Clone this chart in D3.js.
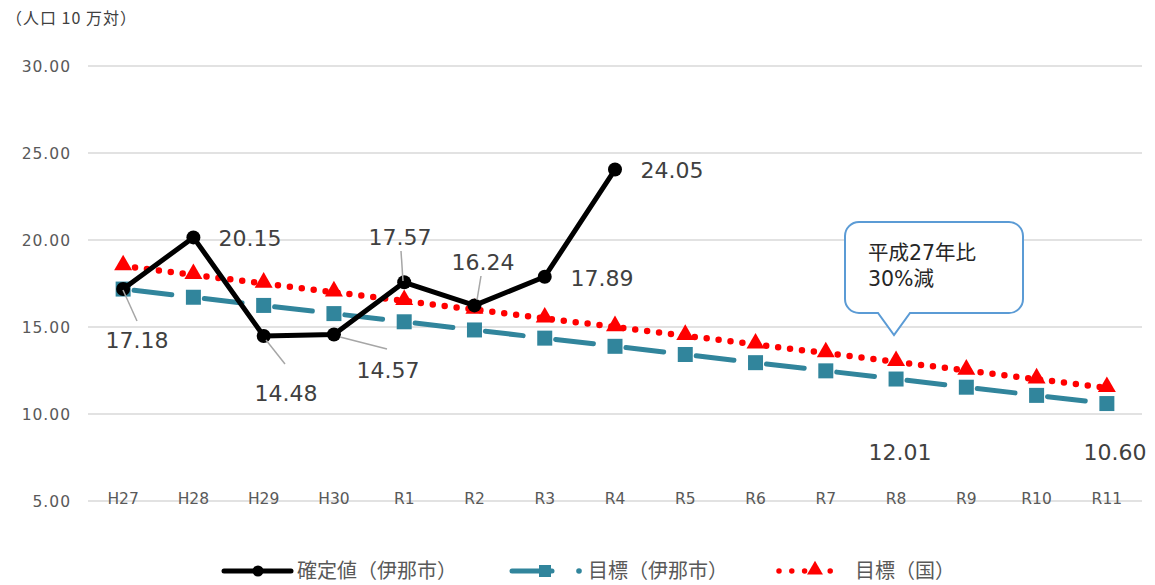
<!DOCTYPE html>
<html><head><meta charset="utf-8">
<script src="https://cdn.jsdelivr.net/npm/d3@7"></script>
<style>
body{margin:0;background:#fff;}
text{font-family:"DejaVu Sans","Noto Sans CJK JP",sans-serif;}
.cjk{font-family:"Noto Sans CJK JP","DejaVu Sans",sans-serif;}
</style></head>
<body><svg id="c" width="1155" height="585"></svg>
<script>
const categories = ["H27","H28","H29","H30","R1","R2","R3","R4","R5","R6","R7","R8","R9","R10","R11"];
const actualValues = [17.18,20.15,14.48,14.57,17.57,16.24,17.89,24.05];
const cityTarget = [17.18,16.71,16.24,15.77,15.30,14.83,14.36,13.89,13.42,12.95,12.48,12.01,11.54,11.07,10.60];
const nationalTarget = [18.5,18.0,17.5,17.0,16.5,16.0,15.5,15.0,14.5,14.0,13.5,13.0,12.5,12.0,11.5];
const yTicks = [5,10,15,20,25,30];
const seriesNames = ["確定値（伊那市）","目標（伊那市）","目標（国）"];
const calloutLines = ["平成27年比","30%減"];
const labels = [
  {text:"17.18", lx:137, ly:340, leader:[[123,290],[137,321]]},
  {text:"20.15", lx:250, ly:238},
  {text:"14.48", lx:286, ly:393, leader:[[266,340],[285,364]]},
  {text:"14.57", lx:388, ly:370, leader:[[340,337],[387,349]]},
  {text:"17.57", lx:400, ly:237, leader:[[401,251],[403,281]]},
  {text:"16.24", lx:483, ly:262, leader:[[481,276],[477,300]]},
  {text:"17.89", lx:602, ly:278},
  {text:"24.05", lx:672, ly:170},
  {text:"12.01", lx:900, ly:452},
  {text:"10.60", lx:1115, ly:452}
];

const svg = d3.select("#c");
const x = d3.scaleBand().domain(categories).range([88,1142]);
const y = d3.scaleLinear().domain([5,30]).range([501,66]);
const cx = d => x(d) + x.bandwidth()/2;

// grid
svg.append("g").selectAll("line").data(yTicks).join("line")
  .attr("x1",88).attr("x2",1142).attr("y1",d=>y(d)).attr("y2",d=>y(d))
  .attr("stroke","#D9D9D9").attr("stroke-width",1.3);
svg.append("g").selectAll("text").data(yTicks).join("text")
  .attr("x",71).attr("y",d=>y(d)).attr("dy","0.36em").attr("text-anchor","end")
  .attr("font-size",15.5).attr("fill","#595959").attr("letter-spacing","1")
  .text(d=>d.toFixed(2));
svg.append("g").selectAll("text").data(categories).join("text")
  .attr("x",d=>cx(d)).attr("y",498).attr("dy","0.36em").attr("text-anchor","middle")
  .attr("font-size",15.5).attr("fill","#595959").text(d=>d);
svg.append("text").attr("x",6).attr("y",18).attr("dy","0.36em").attr("class","cjk")
  .attr("font-size",16).attr("letter-spacing","1").attr("fill","#404040").text("（人口 10 万対）");

const line = d3.line().x(d=>cx(d.c)).y(d=>y(d.v));
const pts = arr => arr.map((v,i)=>({c:categories[i],v}));

// city target (teal long dash, restarting per segment)
const cityPts = pts(cityTarget);
svg.append("g").selectAll("path").data(d3.pairs(cityPts)).join("path")
  .attr("d",d=>line(d)).attr("fill","none")
  .attr("stroke","#31859C").attr("stroke-width",5).attr("stroke-linecap","round")
  .attr("stroke-dasharray","38 32").attr("stroke-dashoffset",59);
svg.append("g").selectAll("rect").data(cityPts).join("rect")
  .attr("x",d=>cx(d.c)-7.5).attr("y",d=>y(d.v)-7.5)
  .attr("width",15).attr("height",15).attr("fill","#31859C");

// national (red dotted)
const natPts = pts(nationalTarget);
svg.append("path").datum(natPts).attr("d",line).attr("fill","none")
  .attr("stroke","#FF0000").attr("stroke-width",6.5).attr("stroke-linecap","round")
  .attr("stroke-dasharray","0 12");
const tri = d3.symbol().type(d3.symbolTriangle).size(140);
svg.append("g").selectAll("path").data(natPts).join("path")
  .attr("d",tri).attr("transform",d=>`translate(${cx(d.c)},${y(d.v)-1})`)
  .attr("fill","#FF0000");

// actual (black)
const actPts = pts(actualValues);
svg.append("path").datum(actPts).attr("d",line).attr("fill","none")
  .attr("stroke","#000").attr("stroke-width",5).attr("stroke-linejoin","round");
svg.append("g").selectAll("circle").data(actPts).join("circle")
  .attr("cx",d=>cx(d.c)).attr("cy",d=>y(d.v)).attr("r",7).attr("fill","#000");

// labels
const lg = svg.append("g");
labels.forEach(l=>{
  if(l.leader){
    lg.append("line").attr("x1",l.leader[0][0]).attr("y1",l.leader[0][1])
      .attr("x2",l.leader[1][0]).attr("y2",l.leader[1][1])
      .attr("stroke","#A6A6A6").attr("stroke-width",1.5);
  }
  lg.append("text").attr("x",l.lx).attr("y",l.ly).attr("dy","0.36em")
    .attr("text-anchor","middle").attr("font-size",22).attr("fill","#404040")
    .text(l.text);
});

// callout
const cp = d3.path();
const L=845,T=222,R=1023,B=313,r=14,tx=878,tx2=910,tipx=894,tipy=335;
cp.moveTo(L+r,T); cp.lineTo(R-r,T); cp.arcTo(R,T,R,T+r,r); cp.lineTo(R,B-r);
cp.arcTo(R,B,R-r,B,r); cp.lineTo(tx2,B); cp.lineTo(tipx,tipy); cp.lineTo(tx,B);
cp.lineTo(L+r,B); cp.arcTo(L,B,L,B-r,r); cp.lineTo(L,T+r); cp.arcTo(L,T,L+r,T,r); cp.closePath();
svg.append("path").attr("d",cp.toString()).attr("fill","#fff").attr("stroke","#5B9BD5").attr("stroke-width",2);
svg.append("g").selectAll("text").data(calloutLines).join("text")
  .attr("x",868).attr("y",(d,i)=>253+i*26).attr("dy","0.36em")
  .attr("font-size",20.5).attr("fill","#262626").text(d=>d);

// legend
const leg = svg.append("g");
const ly = 571;
leg.append("line").attr("x1",224).attr("x2",291).attr("y1",ly).attr("y2",ly).attr("stroke","#000").attr("stroke-width",5).attr("stroke-linecap","round");
leg.append("circle").attr("cx",258).attr("cy",ly).attr("r",5.5).attr("fill","#000");
leg.append("text").attr("class","cjk").attr("x",297).attr("y",ly).attr("dy","0.36em").attr("font-size",20).attr("fill","#595959").text(seriesNames[0]);

leg.append("line").attr("x1",512).attr("x2",552).attr("y1",ly).attr("y2",ly).attr("stroke","#31859C").attr("stroke-width",5).attr("stroke-linecap","round");
leg.append("rect").attr("x",539).attr("y",ly-6).attr("width",12).attr("height",12).attr("fill","#31859C");
leg.append("circle").attr("cx",579).attr("cy",ly).attr("r",2.8).attr("fill","#31859C");
leg.append("text").attr("class","cjk").attr("x",588).attr("y",ly).attr("dy","0.36em").attr("font-size",20).attr("fill","#595959").text(seriesNames[1]);

leg.append("line").attr("x1",779).attr("x2",843).attr("y1",ly).attr("y2",ly).attr("stroke","#FF0000").attr("stroke-width",5.5).attr("stroke-linecap","round").attr("stroke-dasharray","0 12.8");
leg.append("path").attr("d",d3.symbol().type(d3.symbolTriangle).size(110)).attr("transform",`translate(815,${ly-1})`).attr("fill","#FF0000");
leg.append("text").attr("class","cjk").attr("x",855).attr("y",ly).attr("dy","0.36em").attr("font-size",20).attr("fill","#595959").text(seriesNames[2]);
</script></body></html>
